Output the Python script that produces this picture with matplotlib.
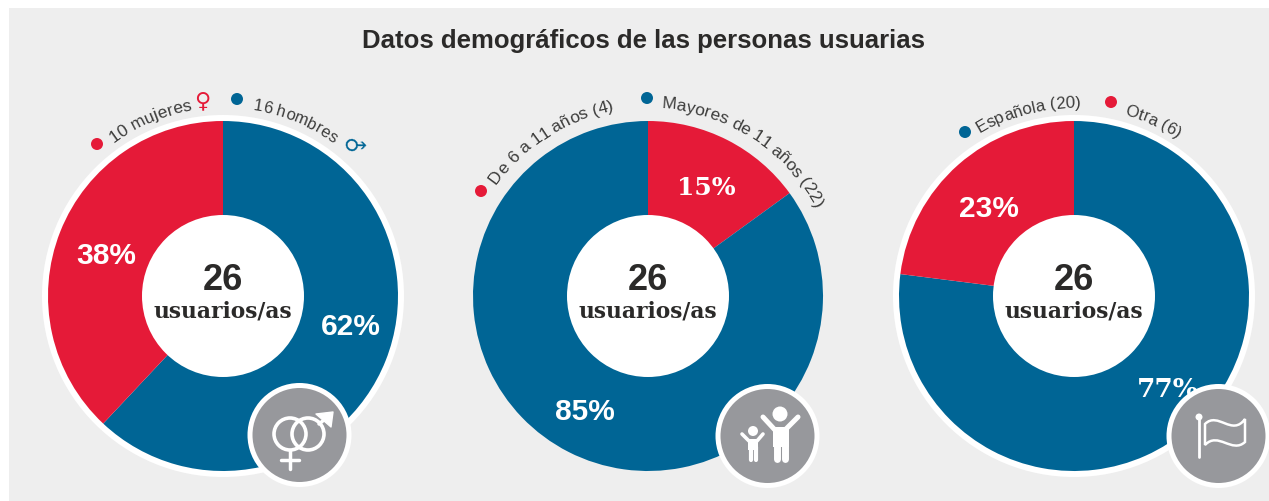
import matplotlib
matplotlib.use("Agg")
import matplotlib.pyplot as plt
from matplotlib.font_manager import FontProperties
from matplotlib.patches import Circle, Rectangle, PathPatch, Polygon
from matplotlib.path import Path
from matplotlib.textpath import TextToPath
import numpy as np

W, H = 1269, 502
BLUE = "#006595"
RED = "#E51A38"
BG = "#EEEEEE"
GREY = "#97989C"
DARK = "#2B2A29"
LABEL = "#3C3C3B"
SANS = "Liberation Sans"
SLAB = "DejaVu Serif"

TITLE = "Datos demográficos de las personas usuarias"
CENTER_NUMBER = "26"
CENTER_LABEL = "usuarios/as"

gender_values = [62, 38]
gender_pcts = ["62%", "38%"]
gender_colors = [BLUE, RED]
age_values = [15, 85]
age_pcts = ["15%", "85%"]
age_colors = [RED, BLUE]
origin_values = [77, 23]
origin_pcts = ["77%", "23%"]
origin_colors = [BLUE, RED]

fig = plt.figure(figsize=(W / 100, H / 100), dpi=100, facecolor="white")
ax = fig.add_axes([0, 0, 1, 1])


def py(y):
    return H - y


def curved(text, cx, cy, r, start_deg, color=LABEL, size=12.5):
    # one Text per glyph, start_deg is clockwise from the top of the circle
    prop = FontProperties(family=SANS, size=size)
    ttp = TextToPath()
    scale = 100 / 72
    for i, ch in enumerate(text):
        w0 = ttp.get_text_width_height_descent(text[:i], prop, False)[0] if i else 0
        ang = start_deg + np.degrees(w0 * scale / r)
        a = np.radians(ang)
        ax.text(cx + r * np.sin(a), py(cy) + r * np.cos(a), ch, rotation=-ang,
                rotation_mode="anchor", ha="left", va="baseline",
                fontproperties=prop, color=color)


def donut(values, colors, cx, ring=False):
    cy = 297
    if ring:
        ax.add_patch(Circle((cx, py(cy)), 181, fc="white", ec="none", zorder=0))
    ax.pie(values, colors=colors, center=(cx, py(cy)), radius=175, startangle=90,
           counterclock=False, frame=True, wedgeprops={"width": 95, "linewidth": 0})
    ax.add_patch(Circle((cx, py(cy)), 81, fc="white", ec="none", zorder=3))
    ax.text(cx, py(281), CENTER_NUMBER, ha="center", va="center", fontsize=26,
            family=SANS, weight="bold", color=DARK, zorder=4)
    ax.text(cx, py(312), CENTER_LABEL, ha="center", va="center", fontsize=15.7,
            family=SLAB, weight="bold", color=DARK, zorder=4)


def pct(x, y, s, family=SANS, size=21.5):
    ax.text(x, py(y), s, ha="center", va="center", fontsize=size, family=family,
            weight="bold", color="white", zorder=4)


def dot(x, y, color):
    ax.add_patch(Circle((x, py(y)), 6, fc=color, ec="none", zorder=4))


def badge(cx, cy):
    ax.add_patch(Circle((cx, py(cy)), 49.5, fc=GREY, ec="white", lw=3.6, zorder=5))


def stroke(xs, ys, lw=2.5, **kw):
    ax.plot(xs, [py(v) for v in ys], color="white", lw=lw, solid_capstyle="round",
            solid_joinstyle="round", zorder=6, **kw)


ax.add_patch(Rectangle((9, 0), W - 9, H - 9, fc=BG, ec="none", zorder=-1))
ax.text(643.5, py(41), TITLE, ha="center", va="center", fontsize=18.55,
        family=SANS, weight="bold", color=DARK)

donut(gender_values, gender_colors, 223, ring=True)
donut(age_values, age_colors, 648)
donut(origin_values, origin_colors, 1074, ring=True)

pct(351, 327, gender_pcts[0])
pct(106, 256, gender_pcts[1])
pct(706, 188, age_pcts[0], family=SLAB, size=18)
pct(585, 412, age_pcts[1])
pct(1168, 390, origin_pcts[0], family=SLAB, size=19)
pct(989, 209, origin_pcts[1])

dot(97, 145, RED)
curved("10 mujeres", 223, 297, 189, -35.5)
dot(237, 100, BLUE)
curved("16 hombres", 223, 297, 189, 9, size=12)
ax.text(202, py(101), "\u2640", ha="center", va="center", fontsize=16, color=RED,
        family="DejaVu Sans")
ax.text(352, py(147), "\u2642", ha="center", va="center", fontsize=16, color=BLUE,
        family="DejaVu Sans", rotation=-45)

dot(481, 192, RED)
curved("De 6 a 11 años (4)", 648, 297, 189, -53.5)
dot(647, 99, BLUE)
curved("Mayores de 11 años (22)", 648, 297, 189, 4)

dot(965, 133, BLUE)
curved("Española (20)", 1074, 297, 189, -30, size=12.2)
dot(1111, 103, RED)
curved("Otra (6)", 1074, 297, 189, 15.5, size=12.2)

# badge icons
badge(299.5, 436)
for cx in [290, 308]:
    ax.add_patch(Circle((cx, py(435)), 16, fc="none", ec="white", lw=2.6, zorder=6))
stroke([290, 290], [452, 470])
stroke([281, 299], [461, 461])
stroke([319, 330], [425, 416])
ax.add_patch(Polygon([(316, py(415)), (333, py(413)), (331, py(428))], fc="white",
                     ec="white", lw=1, joinstyle="round", zorder=6))

badge(767.5, 437)
ax.add_patch(Circle((780, py(415)), 7.5, fc="white", ec="none", zorder=6))
stroke([763, 775, 785, 798], [418, 431, 431, 418], lw=3.6)
stroke([777, 777], [440, 460], lw=5)
stroke([785, 785], [440, 460], lw=5)
ax.add_patch(Rectangle((773, py(448)), 16, 20, fc="white", ec="none", zorder=6))
ax.add_patch(Circle((753, py(432)), 5, fc="white", ec="none", zorder=6))
stroke([742, 749, 757, 763], [435, 442, 442, 435], lw=2.6)
stroke([750.5, 750.5], [448, 461], lw=3)
stroke([755.5, 755.5], [448, 461], lw=3)
ax.add_patch(Rectangle((748, py(451)), 10, 11, fc="white", ec="none", zorder=6))

badge(1218.5, 437)
ax.add_patch(Circle((1199, py(418)), 3.5, fc="white", ec="none", zorder=6))
stroke([1199, 1199], [418, 458], lw=2)
flag = Path([(1205, py(425)), (1218, py(412)), (1232, py(438)), (1245, py(420)),
             (1245, py(443)), (1232, py(455)), (1218, py(432)), (1205, py(446)),
             (1205, py(425))],
            [Path.MOVETO, Path.CURVE4, Path.CURVE4, Path.CURVE4,
             Path.LINETO, Path.CURVE4, Path.CURVE4, Path.CURVE4, Path.CLOSEPOLY])
ax.add_patch(PathPatch(flag, fc="none", ec="white", lw=1.8, zorder=6))

ax.set_xlim(0, W)
ax.set_ylim(0, H)
ax.set_aspect("auto")
ax.axis("off")
fig.savefig("out.png", dpi=100, facecolor="white")
